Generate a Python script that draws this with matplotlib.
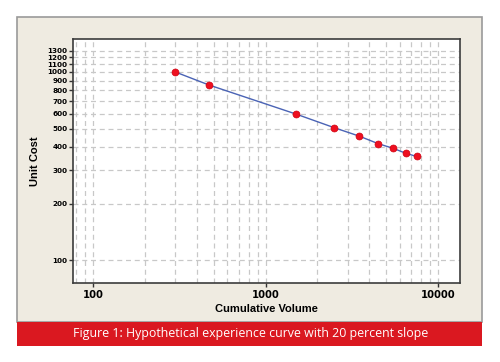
import matplotlib
matplotlib.use("Agg")
import matplotlib.pyplot as plt
from matplotlib.patches import Rectangle
from matplotlib.ticker import FixedLocator, NullFormatter, LogLocator

# data
volume = [300, 470, 1500, 2500, 3500, 4500, 5500, 6500, 7500]
unit_cost = [1000, 853, 598, 506, 456, 416, 393, 370, 356]

y_ticks = [100, 200, 300, 400, 500, 600, 700, 800, 900, 1000, 1100, 1200, 1300]
x_ticks = [100, 1000, 10000]
caption = "Figure 1: Hypothetical experience curve with 20 percent slope"

W, H = 500, 362
fig = plt.figure(figsize=(W / 100, H / 100), dpi=100)
fig.patch.set_facecolor("white")


def px(x0, y0, x1, y1):
    # pixel box -> figure fraction (xy, width, height)
    return (x0 / W, 1 - y1 / H), (x1 - x0) / W, (y1 - y0) / H


# beige panel and red caption band
xy, w, h = px(17, 17, 482, 322)
fig.patches.append(Rectangle(xy, w, h, transform=fig.transFigure, zorder=-2,
                             facecolor="#EFEBE1", edgecolor="#9A9A9A", lw=1.2))
xy, w, h = px(17, 322, 482, 346)
fig.patches.append(Rectangle(xy, w, h, transform=fig.transFigure, zorder=-2,
                             facecolor="#DA1820", edgecolor="none"))
fig.text(251 / W, 1 - 334 / H, caption, color="white", fontsize=8.9,
         family="Open Sans", ha="center", va="center")

ax = fig.add_axes([73 / W, 1 - 283 / H, (460 - 73) / W, (283 - 39) / H])
ax.set_zorder(2)
ax.set_facecolor("white")
ax.set_xscale("log")
ax.set_yscale("log")
ax.set_xlim(76.6, 13400)
ax.set_ylim(75.7, 1497)

ax.plot(volume, unit_cost, color="#4A63B5", lw=1.0, zorder=3)
ax.plot(volume, unit_cost, "o", color="#EE1020", ms=5, mec="#D00010", mew=0.5, zorder=4)

# ticks
ax.yaxis.set_major_locator(FixedLocator(y_ticks))
ax.yaxis.set_minor_locator(FixedLocator([]))
ax.set_yticklabels([str(v) for v in y_ticks])
ax.xaxis.set_major_locator(FixedLocator(x_ticks))
ax.xaxis.set_minor_locator(LogLocator(base=10, subs=range(2, 10)))
ax.xaxis.set_minor_formatter(NullFormatter())
ax.set_xticklabels([str(v) for v in x_ticks])
ax.tick_params(axis="y", which="major", length=3, width=1, color="#333333",
               labelsize=5.2, pad=1)
ax.tick_params(axis="x", which="major", length=3, width=1, color="#333333",
               labelsize=7.2, pad=2)
ax.tick_params(axis="x", which="minor", length=0)
for lbl in ax.get_yticklabels() + ax.get_xticklabels():
    lbl.set_fontweight("bold")
    lbl.set_family("Liberation Sans Narrow")

ax.grid(True, which="both", axis="x", ls=(0, (4, 3)), color="#C8C8C8", lw=0.9)
ax.grid(True, which="major", axis="y", ls=(0, (4, 3)), color="#C8C8C8", lw=0.9)

for s in ax.spines.values():
    s.set_color("#3C3C3C")
    s.set_linewidth(1.2)

ax.set_xlabel("Cumulative Volume", fontsize=8, fontweight="bold", labelpad=3,
              family="Liberation Sans")
ax.set_ylabel("Unit Cost", fontsize=8, fontweight="bold", labelpad=5,
              family="Liberation Sans")

fig.savefig("out.png", dpi=100, facecolor=fig.get_facecolor())
